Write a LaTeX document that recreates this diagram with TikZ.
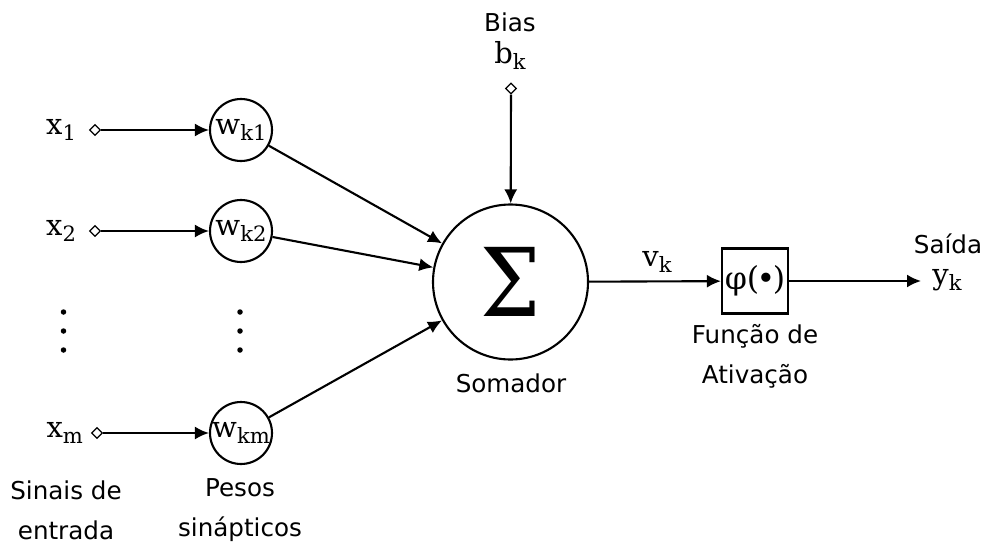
\documentclass[tikz,border=0pt]{standalone}
\usepackage{fontspec}
\setmainfont{DejaVu Sans}
\newfontfamily\symfont{DejaVu Serif}
\usetikzlibrary{arrows.meta, positioning, shapes.geometric}
\newcommand{\sym}[2]{{\symfont\fontsize{16.5}{18}\selectfont #1\raisebox{-0.4ex}{\fontsize{12}{12}\selectfont #2}}}
\tikzset{
  lbl/.style={font=\fontsize{14}{22.8}\selectfont, align=center},
  weight/.style={draw, circle, minimum size=1.24cm, inner sep=0pt},
  sumnode/.style={draw, circle, minimum size=3.1cm, inner sep=0pt},
  actbox/.style={draw, minimum width=1.32cm, minimum height=1.3cm, inner sep=0pt},
  port/.style={draw, diamond, fill=white, minimum width=0.22cm, minimum height=0.22cm, inner sep=0pt, line width=0.7pt},
  arrow/.style={-{Latex[length=2.8mm, width=2.6mm]}},
}

\begin{document}
\begin{tikzpicture}[line width=1.2pt]
  \useasboundingbox (0,0) rectangle (19.74,-10.88);
  \node[weight] (w1) at (4.82,-2.6) {\sym{w}{k1}};
  \node[weight] (w2) at (4.82,-4.62) {\sym{w}{k2}};
  \node[weight] (wm) at (4.82,-8.66) {\sym{w}{km}};
  \node[port] (in1) at (1.9,-2.6) {};
  \node[port] (in2) at (1.9,-4.62) {};
  \node[port] (inm) at (1.94,-8.66) {};
  \node[left=0.12cm of in1] (x1) {\sym{x}{1}};
  \node[left=0.12cm of in2] (x2) {\sym{x}{2}};
  \node[left=0.02cm of inm] (xm) {\sym{x}{m}};
  \foreach \y in {-6.24,-6.62,-7.0} {
    \fill (1.27,\y) circle (0.055);
    \fill (4.8,\y) circle (0.055);
  }
  \node[sumnode] (sum) at (10.21,-5.64) {{\symfont\fontsize{50}{50}\selectfont\scalebox{0.97}[1.08]{Σ}}};
  \node[lbl] (somador) at (10.22,-7.66) {Somador};
  \node[port] (bias) at (10.22,-1.77) {};
  \node (bk) at (10.2,-1.1) {\sym{b}{k}};
  \node[lbl] (biastxt) at (10.2,-0.44) {Bias};
  \node[actbox] (act) at (15.1,-5.62) {{\symfont\fontsize{18}{18}\selectfont φ(\kern-0.08em•\kern-0.08em)}};
  \node (vk) at (13.14,-5.24) {\sym{v}{k}};
  \node[lbl] (acttxt) at (15.1,-7.12) {Função de\\Ativação};
  \coordinate (out) at (18.42,-5.62);
  \node[lbl, inner sep=1pt] (saida) at (18.96,-4.88) {Saída};
  \node[inner sep=1pt] (yk) at (18.94,-5.6) {\sym{y}{k}};
  \node[lbl] (sinais) at (1.32,-10.2) {Sinais de\\entrada};
  \node[lbl] (pesos) at (4.8,-10.2) {Pesos\\sinápticos};
  \draw[arrow] (in1) -- (w1);
  \draw[arrow] (in2) -- (w2);
  \draw[arrow] (inm) -- (wm);
  \draw[arrow] (w1) -- (sum);
  \draw[arrow] (w2) -- (sum);
  \draw[arrow] (wm) -- (sum);
  \draw[arrow] (bias) -- (sum);
  \draw[arrow] (sum) -- (act);
  \draw[arrow] (act) -- (out);
\end{tikzpicture}
\end{document}
